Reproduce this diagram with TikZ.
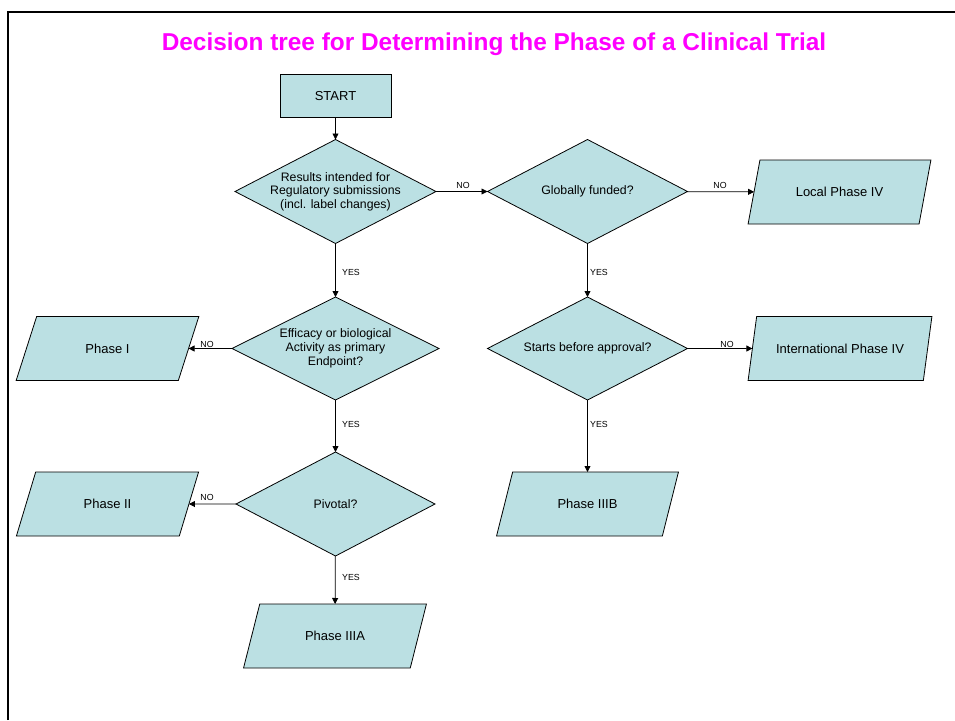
\documentclass[tikz,border=0pt]{standalone}
\usepackage{fontspec}
\setmainfont{Liberation Sans}
\usetikzlibrary{shapes.geometric,arrows.meta}
\definecolor{boxfill}{RGB}{187,224,227}
\definecolor{titlemag}{RGB}{255,0,255}
\tikzset{
  shapeline/.style={draw=black,line width=0.8pt,fill=boxfill,inner sep=1pt,outer sep=0pt},
  startbox/.style={shapeline,rectangle,minimum width=111pt,minimum height=43pt,font=\fontsize{13}{15}\selectfont},
  decision/.style={shapeline,diamond,aspect=1.93,inner xsep=-12pt,inner ysep=-8pt,minimum width=201pt,minimum height=104pt,align=center,font=\fontsize{12.3}{13.5}\selectfont},
  outcome/.style={shapeline,trapezium,trapezium left angle=60,trapezium right angle=120,trapezium stretches=true,minimum width=183pt,minimum height=64pt,font=\fontsize{13}{15}\selectfont},
  conn/.style={draw=black,line width=0.8pt,-{Triangle[length=6pt,width=6pt]}},
  edgelabel/.style={inner sep=0pt,font=\fontsize{8.8}{10}\selectfont}
}
\begin{document}
\begin{tikzpicture}[x=1pt,y=-1pt]
\useasboundingbox (0,0) rectangle (955,720);
% frame
\draw[line width=2pt] (8,720) -- (8,12) -- (956,12);
% title
\node[font=\fontsize{24.4}{28}\selectfont\bfseries,text=titlemag] (title) at (494,44) {Decision tree for Determining the Phase of a Clinical Trial};
% nodes
\node[startbox] (start) at (335.5,96) {START};
\node[decision] (d1) at (335.5,191.5) {Results intended for\\Regulatory submissions\\(incl. label changes)};
\node[decision,minimum width=200pt] (d2) at (587.5,191.5) {Globally funded?};
\node[outcome] (local) at (839.5,192) {Local Phase IV};
\node[decision,minimum width=207pt,minimum height=103pt,font=\fontsize{12.3}{14}\selectfont] (d3) at (335.5,348.5) {Efficacy or biological\\Activity as primary\\Endpoint?};
\node[decision,minimum width=200pt,minimum height=103pt] (d5) at (587.5,348.5) {Starts before approval?};
\node[outcome] (p1) at (107.5,348.5) {Phase I};
\node[outcome,minimum width=184pt] (intl) at (840,348.5) {International Phase IV};
\node[decision,minimum width=199pt] (d4) at (335.5,504) {Pivotal?};
\node[outcome] (p2) at (107.5,504) {Phase II};
\node[outcome] (p3b) at (587.5,504) {Phase IIIB};
\node[outcome,minimum width=184pt] (p3a) at (335,636) {Phase IIIA};
% connectors
\draw[conn] (start) -- (d1);
\draw[conn] (d1) -- (d2);
\draw[conn] (d2) -- (local);
\draw[conn] (d1) -- (d3);
\draw[conn] (d3) -- (p1);
\draw[conn] (d3) -- (d4);
\draw[conn] (d4) -- (p2);
\draw[conn] (d4) -- (p3a);
\draw[conn] (d2) -- (d5);
\draw[conn] (d5) -- (intl);
\draw[conn] (d5) -- (p3b);
% labels
\node[edgelabel] (l1) at (463,185) {NO};
\node[edgelabel] (l2) at (720,185) {NO};
\node[edgelabel] (l3) at (351,272) {YES};
\node[edgelabel] (l4) at (599,272) {YES};
\node[edgelabel] (l5) at (207,344) {NO};
\node[edgelabel] (l6) at (727,344) {NO};
\node[edgelabel] (l7) at (351,424) {YES};
\node[edgelabel] (l8) at (599,424) {YES};
\node[edgelabel] (l9) at (207,497) {NO};
\node[edgelabel] (l10) at (351,577) {YES};
\end{tikzpicture}
\end{document}
